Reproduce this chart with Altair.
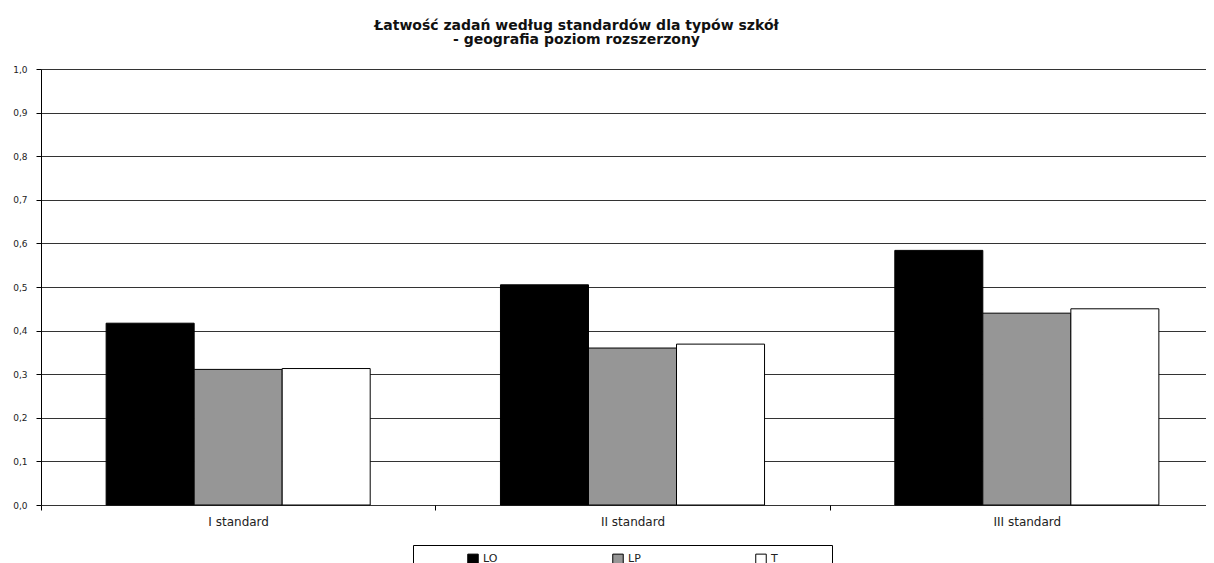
import altair as alt
import pandas as pd

categories = ["I standard", "II standard", "III standard"]
series = ["LO", "LP", "T"]
lo_values = [0.417, 0.505, 0.584]
lp_values = [0.311, 0.360, 0.440]
t_values = [0.313, 0.369, 0.450]
y_ticks = [0.0, 0.1, 0.2, 0.3, 0.4, 0.5, 0.6, 0.7, 0.8, 0.9, 1.0]
colors = ["#000000", "#969696", "#ffffff"]
title_lines = ["Łatwość zadań według standardów dla typów szkół",
               "- geografia poziom rozszerzony"]

rows = []
for name, vals in zip(series, [lo_values, lp_values, t_values]):
    for c, v in zip(categories, vals):
        rows.append({"standard": c, "typ": name, "value": v})
df = pd.DataFrame(rows)

FONT = "DejaVu Sans"

chart = alt.Chart(df).mark_bar(stroke="black", strokeWidth=1).encode(
    x=alt.X("standard:N", sort=categories,
            scale=alt.Scale(paddingInner=0, paddingOuter=0, range=[0, 1183]),
            axis=alt.Axis(title=None, labelAngle=0, tickBand="extent", domain=False,
                          tickColor="black", tickSize=5, labelPadding=6,
                          labelFont=FONT, labelFontSize=12, labelColor="#222")),
    xOffset=alt.XOffset("typ:N", sort=series,
                        scale=alt.Scale(paddingInner=0, paddingOuter=0.74)),
    y=alt.Y("value:Q", scale=alt.Scale(domain=[0, 1], nice=False),
            axis=alt.Axis(title=None, values=y_ticks,
                          labelExpr="replace(format(datum.value, '.1f'), '.', ',')",
                          grid=True, gridColor="#333333", gridWidth=1,
                          domainColor="black", tickColor="black", tickSize=5,
                          labelPadding=9, labelFont=FONT, labelFontSize=9,
                          labelColor="#222")),
    color=alt.Color("typ:N", scale=alt.Scale(domain=series, range=colors),
                    legend=alt.Legend(title=" ", titleOrient="right", titlePadding=46,
                                      orient="none", legendX=372, legendY=476,
                                      direction="horizontal", columns=3,
                                      columnPadding=68, symbolType="square",
                                      symbolSize=110, symbolStrokeColor="black",
                                      symbolStrokeWidth=1, symbolOffset=46,
                                      labelFont=FONT, labelFontSize=11,
                                      labelColor="#222",
                                      strokeColor="black", fillColor="white",
                                      padding=8)),
).properties(
    width=1165,
    height=436,
    title=alt.TitleParams(text=title_lines, font=FONT, fontSize=14,
                          fontWeight="bold", anchor="middle", dx=-47,
                          offset=18, lineHeight=14, color="#111"),
    autosize=alt.AutoSizeParams(type="none"),
    padding={"left": 33, "top": 61, "right": 0, "bottom": 60},
).configure_view(stroke=None).configure(background="white")

chart.save("out.html", embed_options={"renderer": "svg", "actions": False})
